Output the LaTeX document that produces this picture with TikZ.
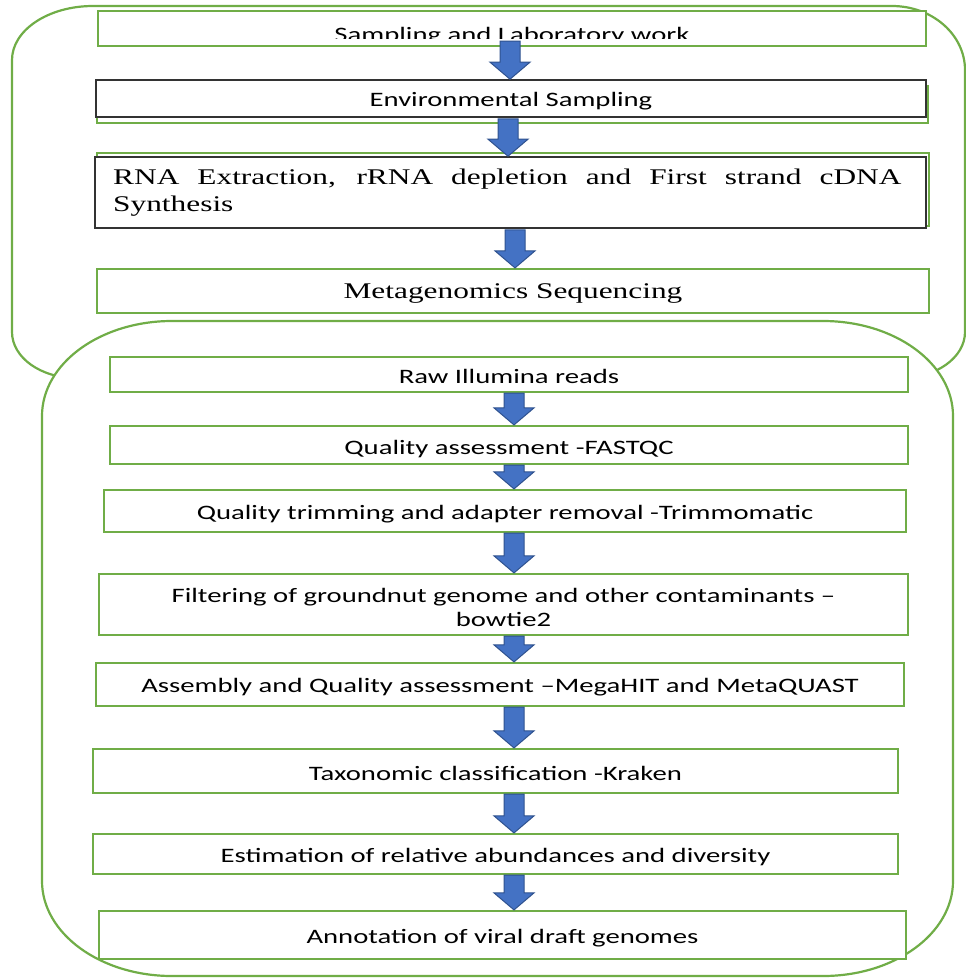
\documentclass[tikz,border=0pt]{standalone}
\usepackage{fontspec}
\setmainfont{Liberation Serif}
\newfontfamily\calib{Carlito}
\usepackage{graphicx}
\usetikzlibrary{calc}
\definecolor{grn}{HTML}{70AD47}
\definecolor{blu}{HTML}{4472C4}
\definecolor{bluedge}{HTML}{2F528F}
\newcommand{\sx}[2][3pt]{\raisebox{-#1}[\height][\depth]{\scalebox{1.4}[1]{#2}}}
\tikzset{
 gbox/.style={draw=grn, line width=2.2pt, fill=white, inner sep=0pt},
 kbox/.style={draw=black!80, line width=1.6pt, fill=white, inner sep=0pt},
 frame/.style={draw=grn, line width=2.2pt},
 sans/.style={font=\calib\fontsize{20.5}{24}\selectfont, text=black, inner sep=0pt, align=center},
 serif/.style={font=\fontsize{22.4}{27}\selectfont, text=black, inner sep=0pt},
 barrow/.style={draw=bluedge, fill=blu, line width=1pt, line join=miter, to path={
   let \p1=(\tikztostart), \p2=(\tikztotarget) in
   (\x1-10pt,\y1) -- (\x1-10pt,\y2+17pt) -- (\x1-20pt,\y2+17pt) -- (\x1,\y2) -- (\x1+20pt,\y2+17pt) -- (\x1+10pt,\y2+17pt) -- (\x1+10pt,\y1) -- cycle}}
}
\begin{document}
\begin{tikzpicture}[x=1pt,y=-1pt]
\useasboundingbox (0,0) rectangle (966,978);
% upper frame
\draw[frame] (12,332) -- (12,60) arc[start angle=180, end angle=90, x radius=81pt, y radius=54pt]
  -- (892,6) arc[start angle=90, end angle=0, x radius=73pt, y radius=64pt]
  -- (965,332) arc[start angle=0, end angle=-90, x radius=64pt, y radius=46pt]
  -- (76,378) arc[start angle=270, end angle=180, x radius=64pt, y radius=46pt] -- cycle;
% lower frame
\draw[frame, fill=white] (42,416) -- (42,881) arc[start angle=180, end angle=270, x radius=130pt, y radius=95pt]
  -- (823,976) arc[start angle=270, end angle=360, x radius=130pt, y radius=95pt]
  -- (953,416) arc[start angle=0, end angle=90, x radius=130pt, y radius=95pt]
  -- (172,321) arc[start angle=90, end angle=180, x radius=130pt, y radius=95pt] -- cycle;

% upper boxes
\node[gbox, minimum width=828pt, minimum height=35pt] (b1) at (512,28.5) {};
\begin{scope}
\clip (98,11) rectangle (926,38.5);
\node[sans, anchor=base] (t1) at (512,41) {\sx[0pt]{Sampling and Laboratory work}};
\end{scope}
\node[gbox, minimum width=831pt, minimum height=37pt] (g2) at (512.5,104.5) {};
\node[kbox, minimum width=830pt, minimum height=37pt] (b2) at (511,98.5) {\sx{\calib\fontsize{20.5}{24}\selectfont Environmental Sampling}};
\node[gbox, minimum width=832pt, minimum height=73pt] (g3) at (513,189.5) {};
\node[kbox, minimum width=831pt, minimum height=71pt] (b3) at (510.5,192.5) {};
\node[serif, anchor=west] (t3) at (113,193) {\sx[0pt]{\begin{tabular}{@{}l@{}}\makebox[563pt][s]{RNA Extraction, rRNA depletion and First strand cDNA}\\Synthesis\end{tabular}}};
\node[gbox, serif, minimum width=832pt, minimum height=44pt] (b4) at (513,291) {\sx[2pt]{Metagenomics Sequencing}};

% lower boxes
\node[gbox, sans, minimum width=798pt, minimum height=35pt] (b5) at (509,374.5) {\sx[2pt]{Raw Illumina reads}};
\node[gbox, sans, minimum width=798pt, minimum height=38pt] (b6) at (509,445) {\sx[4pt]{Quality assessment -FASTQC}};
\node[gbox, sans, minimum width=802pt, minimum height=42pt] (b7) at (505,511) {\sx{Quality trimming and adapter removal -Trimmomatic}};
\node[gbox, sans, minimum width=809pt, minimum height=61pt] (b8) at (503.5,604.5) {\sx[5pt]{\begin{tabular}{@{}c@{}}Filtering of groundnut genome and other contaminants \textendash\\bowtie2\end{tabular}}};
\node[gbox, sans, minimum width=808pt, minimum height=43pt] (b9) at (500,684.5) {\sx{Assembly and Quality assessment \textendash MegaHIT and MetaQUAST}};
\node[gbox, sans, minimum width=805pt, minimum height=44pt] (b10) at (495.5,771) {\sx[2pt]{Taxonomic classification -Kraken}};
\node[gbox, sans, minimum width=805pt, minimum height=40pt] (b11) at (495.5,854) {\sx{Estimation of relative abundances and diversity}};
\node[gbox, sans, minimum width=807pt, minimum height=48pt] (b12) at (502.5,935) {\sx{Annotation of viral draft genomes}};

% arrow axes
\coordinate (ax1) at (510,0);
\coordinate (ax2) at (508,0);
\coordinate (ax3) at (515,0);
\coordinate (axl) at (514,0);

\draw[barrow] ([yshift=6pt]b1.south -| ax1) to (b2.north -| ax1);
\draw[barrow] ([yshift=-1pt]b2.south -| ax2) to (b3.north -| ax2);
\draw[barrow] ([yshift=-1pt]b3.south -| ax3) to (b4.north -| ax3);
\draw[barrow] (b5.south -| axl) to (b6.north -| axl);
\draw[barrow] (b6.south -| axl) to (b7.north -| axl);
\draw[barrow] (b7.south -| axl) to (b8.north -| axl);
\draw[barrow] (b8.south -| axl) to (b9.north -| axl);
\draw[barrow] (b9.south -| axl) to (b10.north -| axl);
\draw[barrow] (b10.south -| axl) to (b11.north -| axl);
\draw[barrow] (b11.south -| axl) to (b12.north -| axl);
\end{tikzpicture}
\end{document}
